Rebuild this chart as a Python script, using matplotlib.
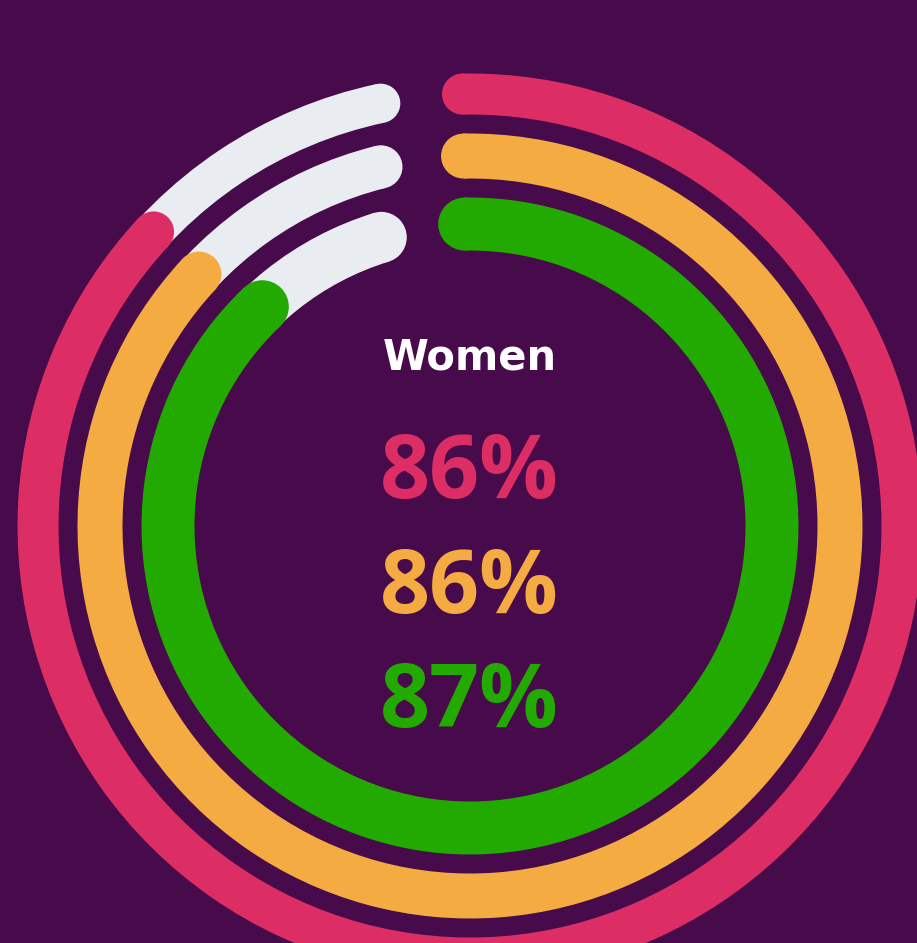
import matplotlib.pyplot as plt
import numpy as np

# data
labels = ['Series A', 'Series B', 'Series C']
values = [86, 86, 87]
colors = ['#dc2e64', '#f4ac42', '#22aa00']
title = 'Women'

bg = '#470a4a'
track = '#e9edf2'
radii = [432, 370, 302]       # ring radius in px
widths = [41, 45, 53]         # stroke width in px
deg_per_pct = 3.65
start = -1.0
gap_px = 90

W, H = 917, 943
cx, cy = 470, 526             # ring centre (px from top-left)
R = 500

fig = plt.figure(figsize=(W / 100, H / 100), dpi=100, facecolor=bg)
ax = fig.add_axes([(cx - R) / W, (H - cy - R) / H, 2 * R / W, 2 * R / H], projection='polar')
ax.set_theta_zero_location('N')
ax.set_theta_direction(-1)
ax.set_rlim(0, R)
ax.axis('off')


def rounded_arc(a0, a1, r, w, color, z):
    t0, t1 = np.radians(a0), np.radians(a1)
    ax.bar((t0 + t1) / 2, w, width=t1 - t0, bottom=r - w / 2, color=color,
           edgecolor='none', align='center', zorder=z)
    d = w * 0.72
    ax.scatter([t0, t1], [r, r], s=d ** 2, color=color, edgecolors='none', zorder=z)


for i, (v, c, r, w) in enumerate(zip(values, colors, radii, widths)):
    end_track = 360 - np.degrees(gap_px / r)
    rounded_arc(start, end_track, r, w * 0.96, track, 2 + 2 * i)
    rounded_arc(start, start + v * deg_per_pct, r, w, c, 3 + 2 * i)

fig.text(470 / W, 1 - 369 / H, title, color='white', fontsize=30, fontweight='bold',
         family='DejaVu Sans', ha='center', va='baseline')

ys = [498, 613, 727]
for v, c, y in zip(values, colors, ys):
    fig.text(469 / W, 1 - y / H, f'{v}%', color=c, fontsize=63, fontweight='bold',
             family='Open Sans', ha='center', va='baseline')

fig.savefig('out.png', dpi=100, facecolor=bg)
